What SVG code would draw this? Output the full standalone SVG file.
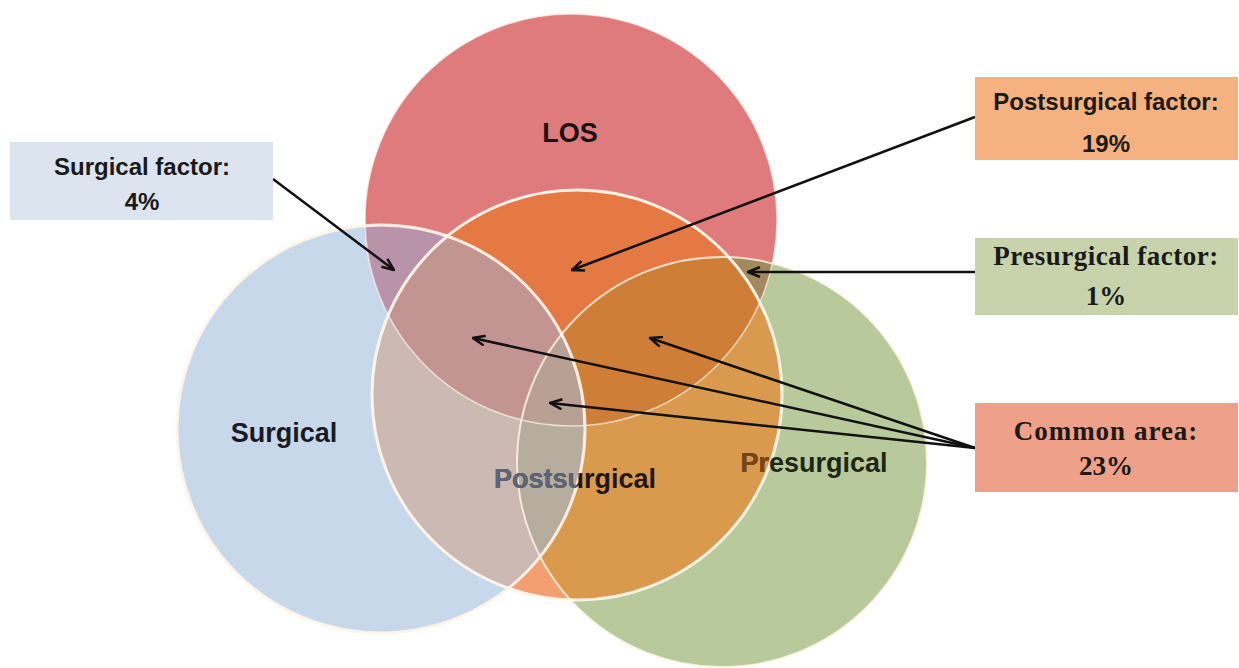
<svg xmlns="http://www.w3.org/2000/svg" width="1239" height="668" viewBox="0 0 1239 668">
<style>
.lbl{font-family:"Liberation Sans",Arial,sans-serif;font-weight:bold;text-anchor:middle}
.big{font-size:27px}
.box{font-size:24px;fill:#1a1a1a}
.ser{font-family:"Liberation Serif","Times New Roman",serif;font-weight:bold;text-anchor:middle;font-size:27px;fill:#1a1a1a}
.edge{fill:none;stroke:#fff6ea}
.con{fill:none;stroke:#111;stroke-width:2.5;marker-end:url(#ah)}
</style>
<defs>
<clipPath id="cL"><circle cx="571" cy="220" r="206"/></clipPath>
<clipPath id="cP"><circle cx="577" cy="395" r="205"/></clipPath>
<clipPath id="cS"><circle cx="381" cy="429" r="204"/></clipPath>
<clipPath id="cR"><circle cx="722" cy="462" r="205"/></clipPath>
<marker id="ah" viewBox="0 0 14 12" refX="13" refY="6" markerWidth="14" markerHeight="12" markerUnits="userSpaceOnUse" orient="auto">
<path d="M1,1 L13,6 L1,11" fill="none" stroke="#111" stroke-width="2.5"/>
</marker>
</defs>
<rect width="1239" height="668" fill="#fff"/>

<g id="node-presurgical">
<circle cx="722" cy="462" r="205" fill="#b8c99b"/>
</g>
<g id="node-surgical">
<circle cx="381" cy="429" r="204" fill="#c8d8eb"/>
</g>
<g id="node-los">
<circle cx="571" cy="220" r="206" fill="#df7b7d"/>
</g>
<g id="node-postsurgical">
<circle cx="577" cy="395" r="205" fill="#f2a072"/>
</g>

<g id="overlaps">
<circle cx="571" cy="220" r="206" fill="#b993aa" clip-path="url(#cS)"/>
<circle cx="571" cy="220" r="206" fill="#e57944" clip-path="url(#cP)"/>
<circle cx="571" cy="220" r="206" fill="#a3895f" clip-path="url(#cR)"/>
<circle cx="381" cy="429" r="204" fill="#ccb9b3" clip-path="url(#cP)"/>
<circle cx="381" cy="429" r="204" fill="#b6bcc2" clip-path="url(#cR)"/>
<circle cx="577" cy="395" r="205" fill="#d99a4e" clip-path="url(#cR)"/>
<g clip-path="url(#cP)"><circle cx="571" cy="220" r="206" fill="#c39592" clip-path="url(#cS)"/></g>
<g clip-path="url(#cP)"><circle cx="571" cy="220" r="206" fill="#cf7e37" clip-path="url(#cR)"/></g>
<g clip-path="url(#cP)"><circle cx="381" cy="429" r="204" fill="#b7ad9e" clip-path="url(#cR)"/></g>
<g clip-path="url(#cP)"><g clip-path="url(#cR)"><circle cx="571" cy="220" r="206" fill="#b8a095" clip-path="url(#cS)"/></g></g>
</g>

<g id="edges">
<circle class="edge" cx="571" cy="220" r="206" stroke-width="1.5" opacity="0.7"/>
<circle class="edge" cx="722" cy="462" r="205" stroke-width="2" opacity="0.8"/>
<circle class="edge" cx="381" cy="429" r="204" stroke-width="3" opacity="0.9"/>
<circle class="edge" cx="577" cy="395" r="205" stroke-width="3" opacity="0.95"/>
</g>

<g id="circle-labels">
<text class="lbl big" x="570" y="142" fill="#1a1212">LOS</text>
<text class="lbl big" x="284" y="442" fill="#1a1a24">Surgical</text>
<text class="lbl big" x="575" y="488" fill="#1f1614">Postsurgical</text>
<text class="lbl big" x="575" y="488" fill="#5d6678" clip-path="url(#cS)">Postsurgical</text>
<text class="lbl big" x="814" y="472" fill="#1f2618">Presurgical</text>
<text class="lbl big" x="814" y="472" fill="#7a4515" clip-path="url(#cP)">Presurgical</text>
</g>

<g id="connectors">
<line class="con" x1="273" y1="179" x2="394" y2="270"/>
<line class="con" x1="975" y1="117" x2="572" y2="270"/>
<line class="con" x1="975" y1="272" x2="748" y2="272"/>
<line class="con" x1="975" y1="448" x2="650" y2="338"/>
<line class="con" x1="975" y1="448" x2="473" y2="338"/>
<line class="con" x1="975" y1="448" x2="550" y2="403"/>
</g>

<g id="box-surgical">
<rect x="10" y="142" width="263" height="78" fill="#dce4f0"/>
<text class="lbl box" x="142" y="175">Surgical factor:</text>
<text class="lbl box" x="142" y="210">4%</text>
</g>
<g id="box-postsurgical">
<rect x="975" y="77" width="263" height="83" fill="#f5b17f"/>
<text class="lbl box" x="1106" y="110" fill="#2a1a10">Postsurgical factor:</text>
<text class="lbl box" x="1106" y="152" fill="#2a1a10">19%</text>
</g>
<g id="box-presurgical">
<rect x="975" y="238" width="263" height="77" fill="#c8d3ac"/>
<text class="ser" x="1106" y="265" letter-spacing="0.5">Presurgical factor:</text>
<text class="ser" x="1106" y="305">1%</text>
</g>
<g id="box-common">
<rect x="975" y="403" width="263" height="89" fill="#efa088"/>
<text class="ser" x="1106" y="440" fill="#2a0a0a" letter-spacing="1">Common area:</text>
<text class="ser" x="1106" y="475" fill="#2a0a0a">23%</text>
</g>
</svg>
